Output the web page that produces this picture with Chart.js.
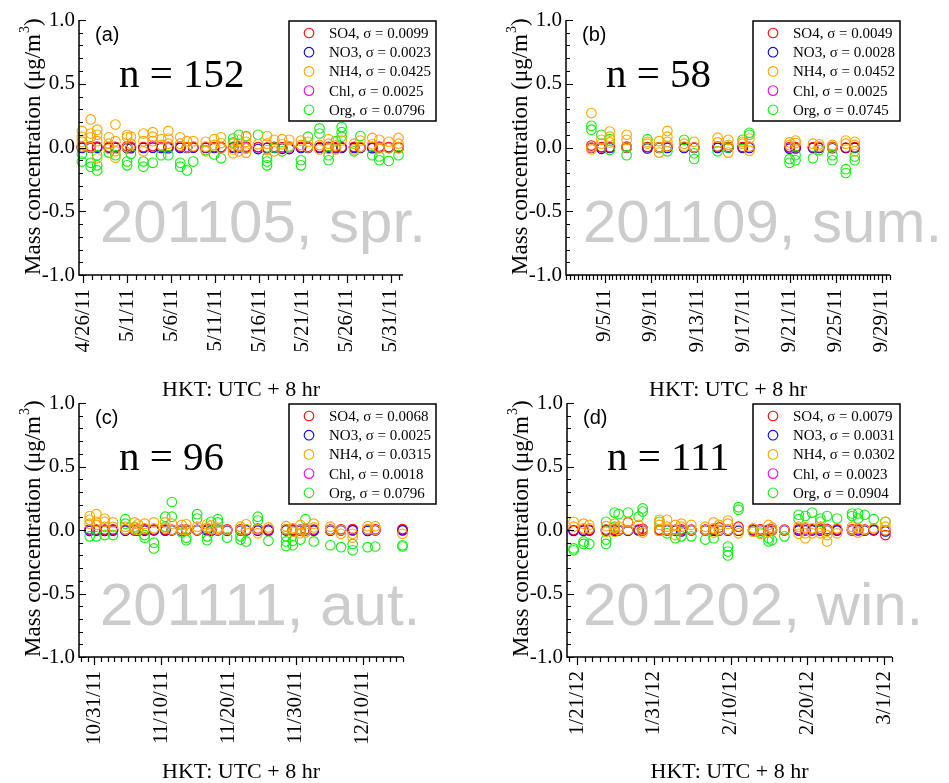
<!DOCTYPE html>
<html>
<head>
<meta charset="utf-8">
<script src="https://cdn.jsdelivr.net/npm/chart.js@4.4.1/dist/chart.umd.min.js"></script>
<style>
  body { margin: 0; background: #fff; width: 949px; height: 783px; overflow: hidden; position: relative; }
  canvas { position: absolute; }
</style>
</head>
<body>
<canvas id="chartA" width="475" height="400" style="left:0px;top:0px"></canvas>
<canvas id="chartB" width="474" height="400" style="left:475px;top:0px"></canvas>
<canvas id="chartC" width="475" height="400" style="left:0px;top:383px"></canvas>
<canvas id="chartD" width="474" height="400" style="left:475px;top:383px"></canvas>
<script>
// species and colours
var species = ['SO4', 'NO3', 'NH4', 'Chl', 'Org'];
var colors = ['#ff0000', '#0000ff', '#ffa500', '#ff00ff', '#11ee11'];
// draw order: lower number ends up on top
var drawOrder = [2, 3, 0, 4, 1];

var sampleCounts = [152, 58, 96, 111];
var seasonLabels = ['201105, spr.', '201109, sum.', '201111, aut.', '201202, win.'];
var sigmaA = [0.0099, 0.0023, 0.0425, 0.0025, 0.0796];
var sigmaB = [0.0049, 0.0028, 0.0452, 0.0025, 0.0745];
var sigmaC = [0.0068, 0.0025, 0.0315, 0.0018, 0.0796];
var sigmaD = [0.0079, 0.0031, 0.0302, 0.0023, 0.0904];

// x values: days since the first labelled date of each panel
// (a) 4/26/11
var dayA = [-0.17, 0.83, 1.57, 2.9, 3.65, 4.98, 5.41, 6.83, 7.9, 8.86, 9.67, 11.03, 11.8, 12.51, 13.93, 14.89, 15.68, 17.05, 17.7, 18.53,
            19.89, 20.92, 21.74, 22.63, 23.44, 24.78, 25.57, 26.89, 27.93, 28.75, 29.41, 30.83, 31.55, 32.9, 33.7, 34.77, 35.89];
var so4A = [0.005, 0.01, 0.008, 0.004, 0.006, 0.01, 0.005, 0.004, 0.012, 0.005, 0.006, 0.007, 0.004, 0.005, 0.0, 0.003, 0.004, 0.006, 0.01, 0.008,
            0.004, 0.0, 0.006, 0.002, 0.004, 0.006, 0.005, 0.003, 0.006, 0.002, 0.004, 0.005, 0.003, 0.006, 0.008, 0.004, 0.003];
var no3A = [-0.003, -0.004, -0.002, -0.004, -0.003, -0.005, -0.006, -0.003, -0.002, -0.004, -0.005, -0.003, -0.004, -0.002, -0.003, -0.004, -0.003, -0.002, -0.003, -0.005,
            -0.012, -0.004, -0.003, -0.01, -0.012, -0.003, -0.004, -0.003, -0.002, -0.006, -0.004, -0.003, -0.004, -0.005, -0.003, -0.004, -0.003];
var nh4A = [[0.13, 0.085, 0.046, 0.007], [0.22, 0.11, 0.08, 0.0], [0.14, 0.1, 0.05, -0.085], [0.08, 0.03, -0.01], [0.18, 0.05, -0.03, -0.08],
            [0.1, 0.08, 0.0], [0.085, 0.03], [0.11, 0.05, -0.03], [0.12, 0.085, 0.05], [0.065, 0.02], [0.13, 0.07, 0.03], [0.08, 0.03],
            [0.05, 0.0], [0.05, 0.01], [0.045, 0.007, -0.03], [0.065, 0.02], [0.08, 0.035, -0.005], [0.03, -0.015, -0.045], [0.06, 0.015, -0.03],
            [0.085, 0.045, -0.005, -0.04], [0.025], [0.09, 0.03, -0.02], [0.06, -0.03], [0.065, 0.025], [0.06, 0.005], [0.055, 0.02],
            [0.045, 0.0], [0.02, -0.015], [0.065, 0.03, -0.01], [0.015, -0.015], [0.055], [0.03, -0.015], [0.055, 0.005], [0.075, 0.025],
            [0.06, -0.005], [0.045, -0.005], [0.075, 0.03, -0.005]];
var chlA = [0.001, 0.0, 0.002, -0.001, 0.0, 0.001, 0.0, -0.002, 0.001, 0.0, 0.002, 0.0, -0.001, 0.0, 0.001, 0.0, 0.002, -0.001, 0.0, 0.001,
            0.0, -0.002, 0.0, 0.001, 0.0, 0.002, 0.0, -0.001, 0.0, 0.001, 0.0, 0.002, 0.0, -0.001, 0.0, 0.001, 0.0];
var orgA = [[-0.05, -0.11], [-0.12, -0.15], [-0.06, -0.14, -0.18], [-0.04], [-0.06], [-0.11, -0.14], [-0.05], [-0.11, -0.15], [-0.12],
            [-0.06], [-0.06], [-0.12, -0.15], [-0.18], [-0.11], [-0.02], [-0.055], [-0.085], [0.07, 0.04], [0.1], [0.09], [0.1],
            [-0.08, -0.11, -0.14], [0.0], [-0.03], [0.01], [-0.1, -0.14], [0.085], [0.15, 0.11], [-0.06, -0.1], [0.05], [0.16, 0.12, 0.085],
            [-0.03], [0.09], [-0.06], [-0.07, -0.1], [-0.105], [-0.06]];

// (b) 9/5/11
var dayB = [-1.16, -0.29, 0.43, 1.89, 3.69, 4.7, 5.42, 6.87, 7.74, 9.77, 10.69, 11.94, 12.52, 16.0, 16.52, 18.03, 18.56, 19.71, 20.87, 21.65];
var so4B = [0.015, 0.003, 0.002, 0.008, 0.004, 0.003, 0.01, 0.004, 0.002, 0.008, 0.005, 0.004, 0.006, 0.004, 0.003, 0.002, 0.003, 0.005, 0.0, 0.004];
var no3B = [-0.003, -0.01, -0.004, -0.002, -0.008, -0.003, -0.004, -0.003, -0.004, -0.003, -0.002, -0.003, -0.004, -0.01, -0.008, -0.004, -0.003, -0.006, -0.004, -0.003];
var nh4B = [[0.27, 0.0, -0.015], [0.06, 0.03], [0.125, 0.085, 0.04], [0.1, 0.06, 0.0], [0.045, 0.03], [0.05, 0.0, -0.04],
            [0.13, 0.085, 0.045, 0.007], [0.03, 0.007], [0.045, 0.0], [0.077, 0.04], [0.06, 0.02, -0.04], [0.045, 0.03],
            [0.07, 0.007, -0.025], [0.04, 0.02], [0.055, 0.035], [0.03], [0.025, 0.007], [0.02, 0.0], [0.055, 0.03], [0.045, 0.02, -0.03]];
var chlB = [0.0, 0.001, 0.0, -0.001, 0.002, 0.0, 0.001, -0.002, 0.0, 0.001, 0.0, 0.001, 0.0, -0.002, 0.0, 0.001, 0.0, 0.002, -0.004, 0.0];
var orgB = [[0.17, 0.14], [0.1], [0.065, -0.02], [-0.06], [0.065], [0.0], [-0.03], [0.06], [-0.045, -0.09], [-0.03], [0.0], [0.06],
            [0.115, 0.1], [-0.09, -0.12], [-0.06, -0.1], [-0.085], [-0.02], [-0.06, -0.1], [-0.17, -0.2], [-0.07, -0.1]];

// (c) 10/31/11
var dayC = [-0.69, 0.3, 1.54, 2.78, 4.62, 6.01, 6.5, 7.5, 8.88, 10.57, 11.56, 13.05, 13.7, 15.33, 16.82, 17.41, 18.41, 19.79, 21.79, 22.63,
            24.36, 25.95, 28.57, 29.57, 30.71, 31.46, 32.7, 35.18, 36.76, 38.5, 40.73, 41.87, 45.93];
var so4C = [0.006, 0.004, 0.003, 0.005, 0.002, 0.004, 0.003, 0.005, 0.004, 0.003, 0.002, 0.004, 0.003, 0.002, 0.005, 0.004, 0.003, 0.006, 0.005, 0.004,
            0.012, 0.004, 0.006, 0.003, 0.004, 0.005, 0.004, 0.003, 0.006, 0.008, 0.004, 0.005, 0.008];
var no3C = [-0.008, -0.006, -0.007, -0.005, -0.006, -0.004, -0.005, -0.006, -0.004, -0.005, -0.004, -0.006, -0.005, -0.004, -0.006, -0.005, -0.004, -0.005, -0.006, -0.004,
            -0.005, -0.006, -0.004, -0.005, -0.006, -0.004, -0.005, -0.006, -0.004, -0.003, -0.008, -0.004, -0.003];
var nh4C = [[0.11, 0.08, 0.05], [0.125, 0.065, 0.04], [0.09, 0.065, 0.025], [0.06, 0.025], [0.025, 0.005], [0.06, 0.025, 0.005], [0.045, 0.0],
            [0.05, 0.013], [0.06, 0.013], [0.06, 0.013], [0.05, 0.0], [0.04, 0.0], [0.045, 0.0], [0.026, 0.0], [0.045, 0.018], [0.035, 0.005],
            [0.018, 0.0], [0.0], [0.026, 0.0], [0.045, 0.005], [0.005, -0.025], [0.02], [0.03, 0.005], [0.013, -0.013], [0.04, 0.0, -0.025],
            [0.0, -0.02], [0.05, 0.02], [0.026, 0.0], [0.0, -0.03], [-0.03, -0.06], [0.03, 0.005], [0.03, 0.0], [-0.03]];
var chlC = [0.001, 0.0, 0.002, 0.001, 0.0, 0.001, 0.0, 0.002, 0.001, 0.0, 0.001, 0.0, 0.002, 0.001, 0.0, 0.001, 0.0, 0.001, 0.002, 0.0,
            0.001, 0.0, 0.001, 0.002, 0.0, 0.001, 0.0, 0.001, 0.0, 0.001, 0.002, 0.0, 0.001];
var orgC = [[-0.05], [-0.05], [-0.04], [-0.04], [0.085, 0.05], [0.02], [0.0], [-0.04, -0.06], [-0.1, -0.145], [0.105, 0.026], [0.22, 0.105],
            [-0.02], [-0.06, -0.08], [0.125, 0.09], [-0.05, -0.08], [0.065], [0.085, 0.06], [-0.06], [-0.05, -0.075], [-0.09], [0.105, 0.075],
            [-0.085], [-0.05, -0.09, -0.125], [-0.085, -0.12], [-0.075], [0.085], [-0.09], [-0.12], [-0.135], [-0.11, -0.16], [-0.135],
            [-0.13], [-0.12, -0.13]];

// (d) 1/21/12
var dayD = [-0.44, 0.86, 1.6, 3.78, 4.9, 5.42, 6.64, 8.02, 8.55, 10.72, 11.72, 12.8, 13.58, 14.88, 16.7, 17.78, 18.5, 19.64, 21.02, 22.92,
            23.87, 24.93, 25.37, 26.99, 28.85, 29.72, 30.6, 31.68, 32.55, 33.85, 35.8, 36.58, 37.44, 38.62, 40.14];
var so4D = [0.0, 0.004, 0.002, 0.003, 0.005, 0.002, 0.06, 0.004, 0.01, 0.003, 0.004, 0.002, 0.005, 0.003, 0.004, 0.003, 0.02, 0.002, 0.026, 0.004,
            0.006, 0.003, 0.005, 0.004, 0.008, 0.012, 0.006, 0.01, 0.008, 0.005, 0.006, 0.01, 0.004, 0.003, -0.04];
var no3D = [-0.006, -0.005, -0.004, -0.005, -0.006, -0.004, -0.005, -0.003, -0.004, -0.006, -0.004, -0.005, -0.012, -0.004, -0.003, -0.005, -0.004, -0.006, -0.005, -0.004,
            -0.003, -0.005, -0.004, -0.003, -0.005, -0.004, -0.003, -0.005, -0.004, -0.005, -0.003, -0.004, -0.005, -0.003, -0.012];
var nh4D = [[0.065, 0.026], [0.05, 0.013], [0.04, 0.013], [0.03, -0.013], [0.05, 0.013, -0.013], [0.026, 0.0], [0.065, 0.0], [0.04],
            [0.0, -0.02], [0.08, 0.04, -0.005], [0.08, 0.026, 0.0], [0.04, 0.0, -0.04], [0.05, 0.026], [0.04, 0.0], [0.026, 0.0],
            [0.06, 0.013, -0.02], [0.04, 0.0], [0.075, 0.05, 0.0], [0.0, -0.026], [0.013, -0.013], [0.0, -0.03], [0.04, -0.013], [0.02, 0.0],
            [0.0], [0.026, -0.03], [0.02, -0.026, -0.065], [0.013, -0.026], [0.026, -0.026], [0.0, -0.04, -0.09], [0.013, -0.026],
            [0.026, 0.0], [0.013, -0.02], [0.0], [0.013], [0.065, 0.026, 0.0]];
var chlD = [-0.008, -0.006, -0.004, 0.0, -0.002, 0.0, -0.004, 0.0, 0.001, 0.0, -0.002, 0.0, -0.003, 0.0, 0.001, 0.0, -0.004, 0.0, -0.006, 0.0,
            0.001, 0.0, -0.002, 0.0, 0.001, 0.0, -0.002, 0.0, 0.001, 0.0, -0.002, 0.0, 0.001, 0.0, -0.003];
var orgD = [[-0.145, -0.16], [-0.09, -0.11], [-0.11], [0.065, -0.075, -0.11], [0.137, 0.026], [0.125], [0.137], [0.105], [0.17, 0.145],
            [0.065], [-0.026], [-0.065], [-0.05], [-0.05], [-0.075], [-0.065], [0.0], [-0.13, -0.17, -0.2], [0.18, 0.16], [-0.013], [-0.02],
            [-0.065, -0.09], [-0.08], [-0.05], [0.085, 0.12], [0.11], [0.137], [0.09, 0.065], [0.11], [0.09], [0.13, 0.11], [0.13, 0.09],
            [0.12], [0.085], [0.065]];

var yTickValues = [-1, -0.5, 0, 0.5, 1];

var SERIF = "'Liberation Serif', 'Times New Roman', serif";
var SANS = "'Liberation Sans', Arial, sans-serif";

var panels = [
  { id: 'chartA', tag: '(a)', n: sampleCounts[0], season: seasonLabels[0], base: [2011, 4, 26], days: dayA,
    series: [so4A, no3A, nh4A, chlA, orgA], sigma: sigmaA, xMin: -0.5, xMax: 36.4, major: 5, minor: 1,
    area: { left: 79, top: 20, right: 403, bottom: 275 }, legendX: 289, waterX: 100 },
  { id: 'chartB', tag: '(b)', n: sampleCounts[1], season: seasonLabels[1], base: [2011, 9, 5], days: dayB,
    series: [so4B, no3B, nh4B, chlB, orgB], sigma: sigmaB, xMin: -3.36, xMax: 24.7, major: 4, minor: 1 / 3,
    area: { left: 91, top: 20, right: 415, bottom: 275 }, legendX: 278, waterX: 108 },
  { id: 'chartC', tag: '(c)', n: sampleCounts[2], season: seasonLabels[2], base: [2011, 10, 31], days: dayC,
    series: [so4C, no3C, nh4C, chlC, orgC], sigma: sigmaC, xMin: -2.28, xMax: 46.0, major: 10, minor: 1,
    area: { left: 79, top: 20, right: 403, bottom: 274 }, legendX: 289, waterX: 100 },
  { id: 'chartD', tag: '(d)', n: sampleCounts[3], season: seasonLabels[3], base: [2012, 1, 21], days: dayD,
    series: [so4D, no3D, nh4D, chlD, orgD], sigma: sigmaD, xMin: -1.3, xMax: 41.0, major: 10, minor: 1,
    area: { left: 92, top: 20, right: 417, bottom: 274 }, legendX: 278, waterX: 108 }
];

function dateLabel(base, day) {
  var d = new Date(Date.UTC(base[0], base[1] - 1, base[2] + Math.round(day)));
  return (d.getUTCMonth() + 1) + '/' + d.getUTCDate() + '/' + String(d.getUTCFullYear()).slice(2);
}

function buildPoints(days, values) {
  var pts = [];
  days.forEach(function(day, j) {
    var v = values[j];
    (Array.isArray(v) ? v : [v]).forEach(function(y) { pts.push({ x: day, y: y }); });
  });
  return pts;
}

function makeDecor(p) {
  return {
    id: 'decor',
    beforeDatasetsDraw: function(chart) {
      var ctx = chart.ctx, a = chart.chartArea;
      ctx.save();
      ctx.fillStyle = '#cccccc';
      ctx.font = '60px ' + SANS;
      ctx.textBaseline = 'alphabetic';
      ctx.textAlign = 'left';
      ctx.fillText(p.season, p.waterX, a.top + 222);
      ctx.restore();
    },
    afterDraw: function(chart) {
      var ctx = chart.ctx, a = chart.chartArea;
      var xs = chart.scales.x, ys = chart.scales.y;
      ctx.save();
      ctx.strokeStyle = '#000';
      ctx.lineWidth = 1.5;
      ctx.beginPath();
      ctx.moveTo(a.left, a.top);
      ctx.lineTo(a.left, a.bottom);
      ctx.lineTo(a.right, a.bottom);
      ctx.stroke();

      // y ticks, pointing inward
      ctx.lineWidth = 1.2;
      ctx.beginPath();
      for (var k = -10; k <= 10; k++) {
        var py = Math.round(ys.getPixelForValue(k / 10)) + 0.5;
        var len = (k % 5 === 0) ? 7 : 4;
        ctx.moveTo(a.left, py);
        ctx.lineTo(a.left + len, py);
      }
      // x ticks, pointing outward
      var k0 = Math.ceil(p.xMin / p.minor - 1e-6), k1 = Math.floor(p.xMax / p.minor + 1e-6);
      for (var i = k0; i <= k1; i++) {
        var v = i * p.minor;
        var r = v / p.major;
        var isMajor = Math.abs(r - Math.round(r)) < 1e-6;
        var px = Math.round(xs.getPixelForValue(v)) + 0.5;
        ctx.moveTo(px, a.bottom);
        ctx.lineTo(px, a.bottom + (isMajor ? 8 : 5));
      }
      ctx.stroke();

      // panel tag and sample count
      ctx.fillStyle = '#000';
      ctx.textBaseline = 'alphabetic';
      ctx.textAlign = 'left';
      ctx.font = '20px ' + SANS;
      ctx.fillText(p.tag, a.left + 16, a.top + 21);
      ctx.font = '41px ' + SERIF;
      ctx.fillText('n = ' + p.n, a.left + 40, a.top + 67);

      // x title
      ctx.textAlign = 'center';
      ctx.font = '22px ' + SERIF;
      ctx.fillText('HKT: UTC + 8 hr', (a.left + a.right) / 2, a.bottom + 121);

      // y title
      ctx.save();
      ctx.translate(a.left - 39, a.bottom);
      ctx.rotate(-Math.PI / 2);
      ctx.textAlign = 'left';
      ctx.font = '23px ' + SERIF;
      var main = 'Mass concentration (\u03bcg/m';
      ctx.fillText(main, 0, 0);
      var w = ctx.measureText(main).width;
      ctx.font = '14px ' + SERIF;
      ctx.fillText('3', w + 1, -11);
      ctx.font = '23px ' + SERIF;
      ctx.fillText(')', w + 8, 0);
      ctx.restore();

      // legend box
      var x0 = p.legendX, y0 = a.top + 1, bw = 147, bh = 100;
      ctx.fillStyle = '#fff';
      ctx.fillRect(x0, y0, bw, bh);
      ctx.strokeStyle = '#000';
      ctx.lineWidth = 1.5;
      ctx.strokeRect(x0, y0, bw, bh);
      ctx.font = '15px ' + SERIF;
      ctx.textAlign = 'left';
      ctx.textBaseline = 'middle';
      species.forEach(function(name, s) {
        var cy = y0 + 12 + s * 19.2;
        ctx.beginPath();
        ctx.arc(x0 + 20, cy, 4.8, 0, 2 * Math.PI);
        ctx.strokeStyle = colors[s];
        ctx.lineWidth = 1.1;
        ctx.stroke();
        ctx.fillStyle = '#000';
        ctx.fillText(name + ', \u03c3 = ' + p.sigma[s].toFixed(4), x0 + 40, cy + 1);
      });
      ctx.restore();
    }
  };
}

panels.forEach(function(p) {
  var canvas = document.getElementById(p.id);
  var cw = canvas.width, chh = canvas.height;
  var datasets = species.map(function(name, s) {
    return {
      label: name,
      data: buildPoints(p.days, p.series[s]),
      order: drawOrder[s],
      borderColor: colors[s],
      backgroundColor: 'rgba(0,0,0,0)',
      pointRadius: 4.8,
      pointHoverRadius: 4.8,
      pointBorderWidth: 1.1,
      showLine: false,
      clip: false
    };
  });

  new Chart(canvas, {
    type: 'scatter',
    data: { datasets: datasets },
    options: {
      responsive: false,
      animation: false,
      devicePixelRatio: 1,
      events: [],
      layout: { padding: { left: 0, top: p.area.top, right: cw - p.area.right, bottom: 0 } },
      plugins: { legend: { display: false }, tooltip: { enabled: false } },
      scales: {
        x: {
          type: 'linear',
          min: p.xMin,
          max: p.xMax,
          grid: { display: false, drawTicks: false },
          border: { display: false },
          afterBuildTicks: function(scale) {
            var t = [];
            for (var v = Math.ceil(p.xMin / p.major) * p.major; v <= p.xMax; v += p.major) t.push({ value: v });
            scale.ticks = t;
          },
          afterFit: function(scale) { scale.height = chh - p.area.bottom; },
          ticks: {
            autoSkip: false,
            maxRotation: 90,
            minRotation: 90,
            padding: 14,
            color: '#000',
            font: { family: SERIF, size: 21 },
            callback: function(value) { return dateLabel(p.base, value); }
          }
        },
        y: {
          type: 'linear',
          min: -1,
          max: 1,
          grid: { display: false, drawTicks: false },
          border: { display: false },
          afterBuildTicks: function(scale) {
            scale.ticks = yTickValues.map(function(v) { return { value: v }; });
          },
          afterFit: function(scale) { scale.width = p.area.left; },
          ticks: {
            padding: 4,
            color: '#000',
            font: { family: SERIF, size: 21 },
            callback: function(value) { return value.toFixed(1); }
          }
        }
      }
    },
    plugins: [makeDecor(p)]
  });
});
</script>
</body>
</html>
